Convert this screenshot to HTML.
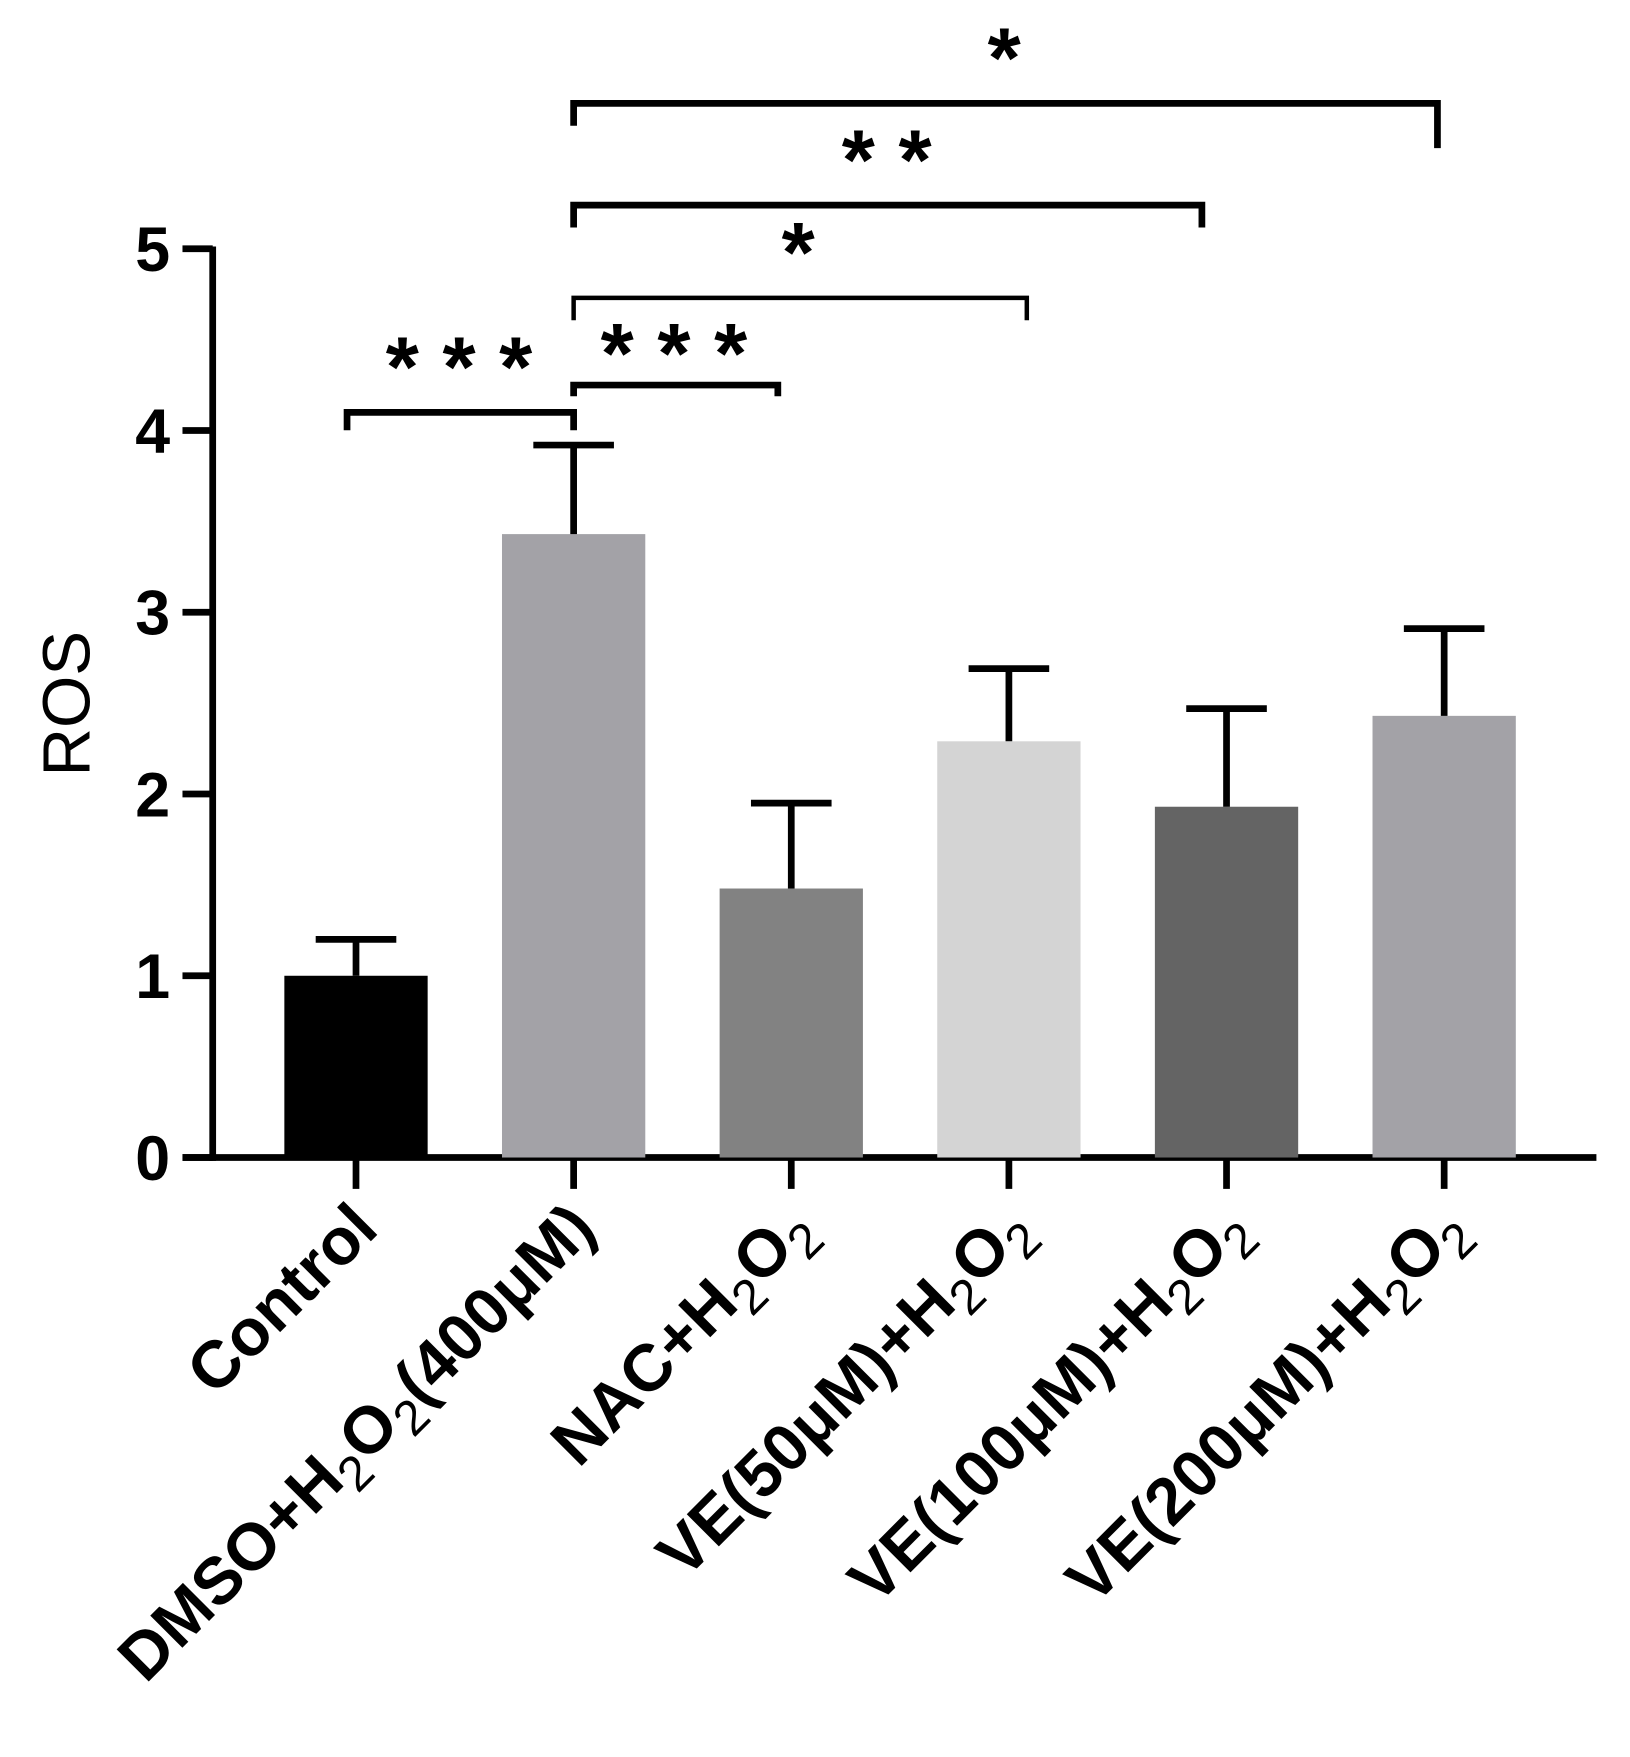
<!DOCTYPE html>
<html><head><meta charset="utf-8"><style>html,body{margin:0;padding:0;background:#fff}svg{display:block}</style></head>
<body>
<svg id="chart" width="1630" height="1757" viewBox="0 0 1456 1568" preserveAspectRatio="none" xmlns="http://www.w3.org/2000/svg" font-family="'Liberation Sans', Arial, sans-serif">
<g id="axes"></g>
<g id="bars"></g>
<g id="sig"></g>
<g id="xlabels"></g>
</svg>
<script>
const categories = ["Control","DMSO+H2O2(400μM)","NAC+H2O2","VE(50μM)+H2O2","VE(100μM)+H2O2","VE(200μM)+H2O2"];
const means = [1.0, 3.43, 1.48, 2.29, 1.93, 2.43];
const errors = [0.2, 0.49, 0.47, 0.40, 0.54, 0.48];
const colors = ["#000000","#a3a2a7","#828282","#d4d4d4","#646464","#a3a2a7"];
const yTicks = [0,1,2,3,4,5];
const sigFrom = [0,1,1,1,1];
const sigTo = [1,2,3,4,5];
const sigLabels = ["* * *","* * *","*","* *","*"];
const sigLevels = [4.1, 4.25, 4.73, 5.24, 5.8];

const NS="http://www.w3.org/2000/svg";
const y0=1033, y5=222, unit=(y0-y5)/5;
const yS=v=>y0-v*unit;
const xC=i=>318+i*194.4;
const barW=128;
const endOff={1:0,2:-12,3:16,4:-22,5:-6};
const labX={0:410,1:602,2:713,3:792,4:897};
function mk(tag,attrs,parent){const e=document.createElementNS(NS,tag);for(const k in attrs)e.setAttribute(k,attrs[k]);parent.appendChild(e);return e;}
const axes=document.getElementById('axes'),bars=document.getElementById('bars'),sig=document.getElementById('sig'),xl=document.getElementById('xlabels');

let l=mk('line',{x1:190,y1:yS(5)-2,x2:190,y2:y0+3,stroke:'#000','stroke-width':6},axes);


l=mk('line',{x1:163,y1:y0,x2:1426,y2:y0,stroke:'#000','stroke-width':6},axes);


yTicks.forEach(t=>{
  const tk=mk('line',{x1:163,y1:yS(t),x2:190,y2:yS(t),stroke:'#000','stroke-width':6},axes);
  
  
  const tx=mk('text',{x:152,y:yS(t)+20,'text-anchor':'end','font-size':56,'font-weight':'bold'},axes);
  tx.textContent=t;
  
  
});
const yt=mk('text',{x:0,y:0,transform:'translate(80,628) rotate(-90)','text-anchor':'middle','font-size':60},axes);
yt.textContent='ROS';



categories.forEach((c,i)=>{
  const x=xC(i);
  const r=mk('rect',{x:x-barW/2,y:yS(means[i]),width:barW,height:y0-yS(means[i]),fill:colors[i]},bars);
  
  
  const e=mk('path',{d:`M${x},${yS(means[i])} V${yS(means[i]+errors[i])} M${x-36},${yS(means[i]+errors[i])} H${x+36}`,stroke:'#000','stroke-width':6,fill:'none'},bars);
  
  
  const tk=mk('line',{x1:x,y1:y0,x2:x,y2:y0+28,stroke:'#000','stroke-width':6},axes);
  
  
  const t=mk('text',{x:0,y:0,transform:`translate(${x+22},${y0+66}) rotate(-45)`,'text-anchor':'end','font-size':59,'font-weight':'bold'},xl);
  
  
  const parts=c.split('H2O2');
  if(parts.length>1){
    t.appendChild(document.createTextNode(parts[0]+'H'));
    let s=mk('tspan',{'font-size':44,'font-weight':'normal',dy:14},t);s.textContent='2';
    s=mk('tspan',{dy:-14},t);s.textContent='O';
    s=mk('tspan',{'font-size':44,'font-weight':'normal',dy:14},t);s.textContent='2';
    s=mk('tspan',{dy:-14},t);s.textContent=parts[1]||'';
  } else t.textContent=c;
});

sigFrom.forEach((a,k)=>{
  const x1=xC(a)-(a===0?8:0), x2=xC(sigTo[k])+endOff[sigTo[k]];
  const y=yS(sigLevels[k]);
  const drop=k===0?16:(k===1?10:20);
  const p=mk('path',{d:`M${x1},${y+drop} V${y} H${x2} V${y+drop+(k===4?20:0)}`,stroke:'#000','stroke-width':k===2?4:6,fill:'none'},sig);
  
  
  const t=mk('text',{x:labX[k],y:y-(k===1?2:14),'text-anchor':'middle','font-size':76,'font-weight':'bold'},sig);
  t.textContent=sigLabels[k];
  
  
});
</script>
</body></html>
